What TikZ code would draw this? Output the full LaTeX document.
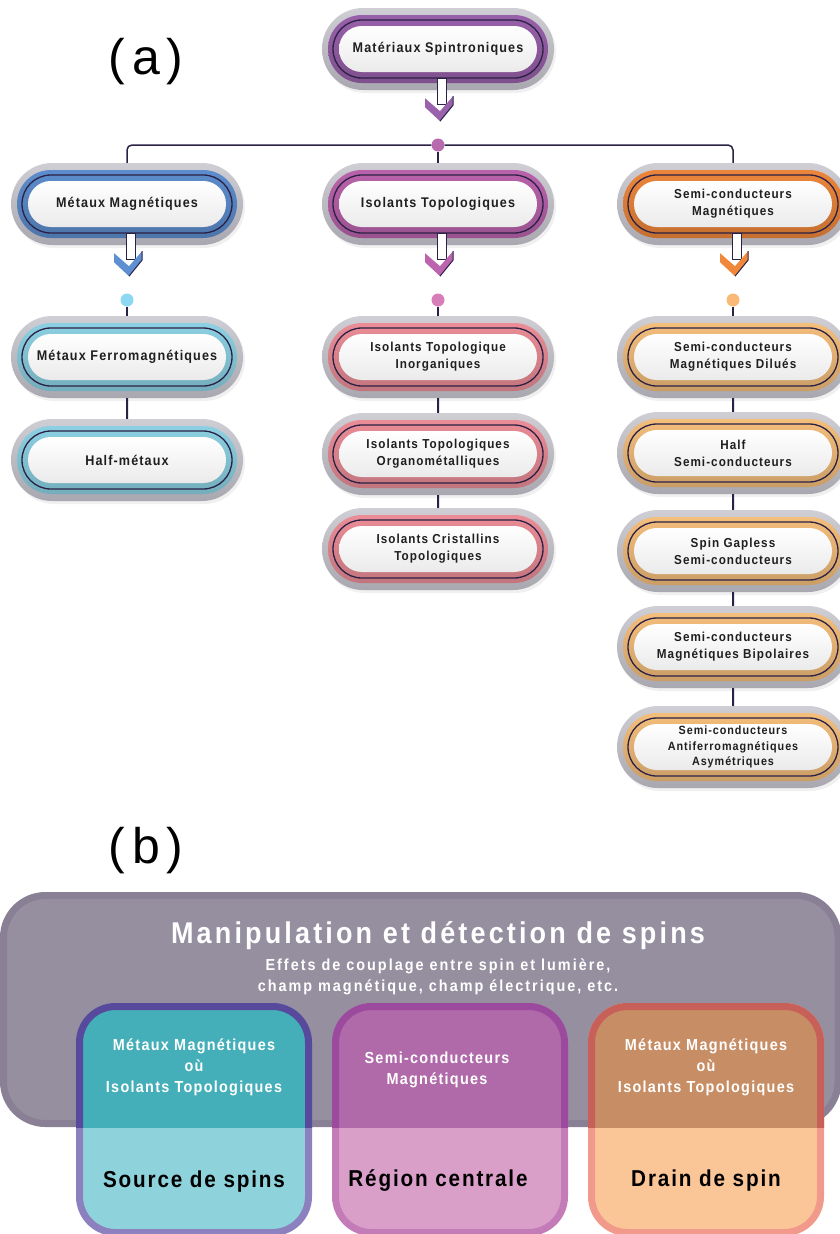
\documentclass[tikz,border=0pt]{standalone}
\usepackage{fontspec}
\newfontfamily\diafont{Liberation Sans}[FakeStretch=0.9,LetterSpace=8]
\newfontfamily\partfont{Liberation Sans}[LetterSpace=14]
\usetikzlibrary{shapes.misc,shadows}

\definecolor{navy}{HTML}{2B2146}
\definecolor{pillTop}{HTML}{CFCED4}
\definecolor{pillBot}{HTML}{A9A7AF}
\definecolor{cPurple}{HTML}{9B62AC}
\definecolor{cBlue}{HTML}{5E8FD0}
\definecolor{cMagenta}{HTML}{BC64AE}
\definecolor{cOrange}{HTML}{F0883C}
\definecolor{cSky}{HTML}{8ED4E6}
\definecolor{cRose}{HTML}{EE8F99}
\definecolor{cApricot}{HTML}{F8C17D}
\definecolor{dotPurple}{HTML}{B86AAE}
\definecolor{dotSky}{HTML}{8CD8F2}
\definecolor{dotRose}{HTML}{D77EB8}
\definecolor{dotApricot}{HTML}{FBB978}
\definecolor{frameGray}{HTML}{8A8095}
\definecolor{fillGray}{HTML}{958FA0}
\definecolor{srcLight}{HTML}{8ED3DC}
\definecolor{srcFrame}{HTML}{8C80BE}
\definecolor{srcDark}{HTML}{44AFB8}
\definecolor{srcDarkFrame}{HTML}{574A9C}
\definecolor{midLight}{HTML}{DA9FC9}
\definecolor{midFrame}{HTML}{C47CB9}
\definecolor{midDark}{HTML}{B06AA9}
\definecolor{midDarkFrame}{HTML}{9B4A9D}
\definecolor{drnLight}{HTML}{FAC597}
\definecolor{drnFrame}{HTML}{F19A8C}
\definecolor{drnDark}{HTML}{C78D65}
\definecolor{drnDarkFrame}{HTML}{C8605A}

\tikzset{
  pill/.style={rounded rectangle, minimum width=232pt, minimum height=82pt, inner sep=0pt,
    top color=pillTop, bottom color=pillBot,
    drop shadow={opacity=0.12, shadow xshift=2pt, shadow yshift=-3pt},
    font=\diafont\bfseries\fontsize{14}{17}\selectfont, align=center, text=black!88,
    path picture={
      \path[top color=#1, bottom color=#1!80!black, rounded corners=33.9pt]
        ([shift={(-110pt,-34pt)}]path picture bounding box.center) rectangle
        ([shift={(110pt,34pt)}]path picture bounding box.center);
      \draw[navy, line width=1.3pt, rounded corners=28.9pt]
        ([shift={(-105pt,-29pt)}]path picture bounding box.center) rectangle
        ([shift={(105pt,29pt)}]path picture bounding box.center);
      \path[top color=white, bottom color=black!8, rounded corners=22.9pt]
        ([shift={(-99pt,-23pt)}]path picture bounding box.center) rectangle
        ([shift={(99pt,23pt)}]path picture bounding box.center);
    }},
  two/.style={font=\diafont\bfseries\fontsize{13}{17}\selectfont},
  three/.style={font=\diafont\bfseries\fontsize{12}{15.5}\selectfont},
  link/.style={navy, line width=2pt},
  hub/.style={circle, fill=#1, minimum size=13pt, inner sep=0pt},
  partlabel/.style={font=\partfont\fontsize{50}{50}\selectfont},
  boxtext/.style={text=white, align=center, font=\diafont\bfseries\fontsize{16}{21}\selectfont},
  boxname/.style={text=black, font=\diafont\bfseries\fontsize{23}{26}\selectfont},
}

\newcommand\pillarrow[2]{%
  \begin{scope}[shift={(#1.south)}]
    \filldraw[fill=white, draw=navy, line width=1pt] (-1,-12) rectangle (8,14);
    \fill[#2] (-13,8) -- (2,21) -- (15,6) -- (15,15) -- (2,31) -- (-13,17) -- cycle;
    \draw[navy, line width=1pt] (2,31) -- (15,15) -- (15,6);
  \end{scope}}

\newcommand\spinbox[5]{%
  \draw[line width=7pt, draw=#3, fill=#2, rounded corners=36pt] (#1+3.5,1006.5) rectangle (#1+232.5,1232.5);
  \begin{scope}
    \clip (0,880) rectangle (840,1127);
    \draw[line width=7pt, draw=#5, fill=#4, rounded corners=36pt] (#1+3.5,1006.5) rectangle (#1+232.5,1232.5);
  \end{scope}}

\begin{document}
\begin{tikzpicture}[x=1pt, y=-1pt]
  \useasboundingbox (0,0) rectangle (840,1234);
  \clip (0,0) rectangle (840,1234);

  %%%%% (a) %%%%%
  \node[partlabel] (lblA) at (146,62) {(a)};

  \node[pill=cPurple] (mat) at (438,49) {Matériaux Spintroniques};

  \node[pill=cBlue] (mm) at (127,204) {Métaux Magnétiques};
  \node[pill=cMagenta] (it) at (438,204) {Isolants Topologiques};
  \node[pill=cOrange, two] (sm) at (733,204) {Semi-conducteurs\\Magnétiques};

  \node[hub=dotPurple] (d0) at (438,145) {};
  \draw[navy, line width=1.5pt, rounded corners=5pt] (mm.north) |- (d0) -| (sm.north);
  \draw[link] (d0) -- (it.north);

  \pillarrow{mat}{cPurple}
  \pillarrow{mm}{cBlue}
  \pillarrow{it}{cMagenta}
  \pillarrow{sm}{cOrange}

  \node[hub=dotSky] (d1) at (127,300) {};
  \node[hub=dotRose] (d2) at (438,300) {};
  \node[hub=dotApricot] (d3) at (733,300) {};

  \node[pill=cSky] (mf) at (127,357) {Métaux Ferromagnétiques};
  \node[pill=cSky] (hm) at (127,460) {Half-métaux};

  \node[pill=cRose, two] (iti) at (438,357) {Isolants Topologique\\Inorganiques};
  \node[pill=cRose, two] (ito) at (438,454) {Isolants Topologiques\\Organométalliques};
  \node[pill=cRose, two] (ict) at (438,549) {Isolants Cristallins\\Topologiques};

  \node[pill=cApricot, two] (sd) at (733,357) {Semi-conducteurs\\Magnétiques Dilués};
  \node[pill=cApricot, two] (hs) at (733,453) {Half\\Semi-conducteurs};
  \node[pill=cApricot, two] (sg) at (733,551) {Spin Gapless\\Semi-conducteurs};
  \node[pill=cApricot, two] (sb) at (733,647) {Semi-conducteurs\\Magnétiques Bipolaires};
  \node[pill=cApricot, three] (sa) at (733,747) {Semi-conducteurs\\Antiferromagnétiques\\Asymétriques};

  \draw[link] (d1) -- (mf);
  \draw[link] (mf) -- (hm);
  \draw[link] (d2) -- (iti);
  \draw[link] (iti) -- (ito);
  \draw[link] (ito) -- (ict);
  \draw[link] (d3) -- (sd);
  \draw[link] (sd) -- (hs);
  \draw[link] (hs) -- (sg);
  \draw[link] (sg) -- (sb);
  \draw[link] (sb) -- (sa);

  %%%%% (b) %%%%%
  \node[partlabel] (lblB) at (146,851) {(b)};

  \draw[line width=7pt, draw=frameGray, fill=fillGray, rounded corners=42pt] (3.5,895.5) rectangle (838,1123.5);

  \node[text=white, font=\diafont\bfseries\fontsize{30}{32}\selectfont\addfontfeature{LetterSpace=10.5}] (manip) at (438,936) {Manipulation et détection de spins};
  \node[text=white, align=center, font=\diafont\bfseries\fontsize{16}{21}\selectfont\addfontfeature{LetterSpace=12.5}] (effets) at (438,977)
    {Effets de couplage entre spin et lumière,\\champ magnétique, champ électrique, etc.};

  \spinbox{76}{srcLight}{srcFrame}{srcDark}{srcDarkFrame}
  \spinbox{332}{midLight}{midFrame}{midDark}{midDarkFrame}
  \spinbox{588}{drnLight}{drnFrame}{drnDark}{drnDarkFrame}

  \node[boxtext] (srcmat) at (194,1067) {Métaux Magnétiques\\où\\Isolants Topologiques};
  \node[boxtext] (midmat) at (437,1070) {Semi-conducteurs\\Magnétiques};
  \node[boxtext] (drnmat) at (706,1067) {Métaux Magnétiques\\où\\Isolants Topologiques};

  \node[boxname] (src) at (194,1182) {Source de spins};
  \node[boxname] (mid) at (438,1180) {Région centrale};
  \node[boxname] (drn) at (706,1181) {Drain de spin};
\end{tikzpicture}
\end{document}
